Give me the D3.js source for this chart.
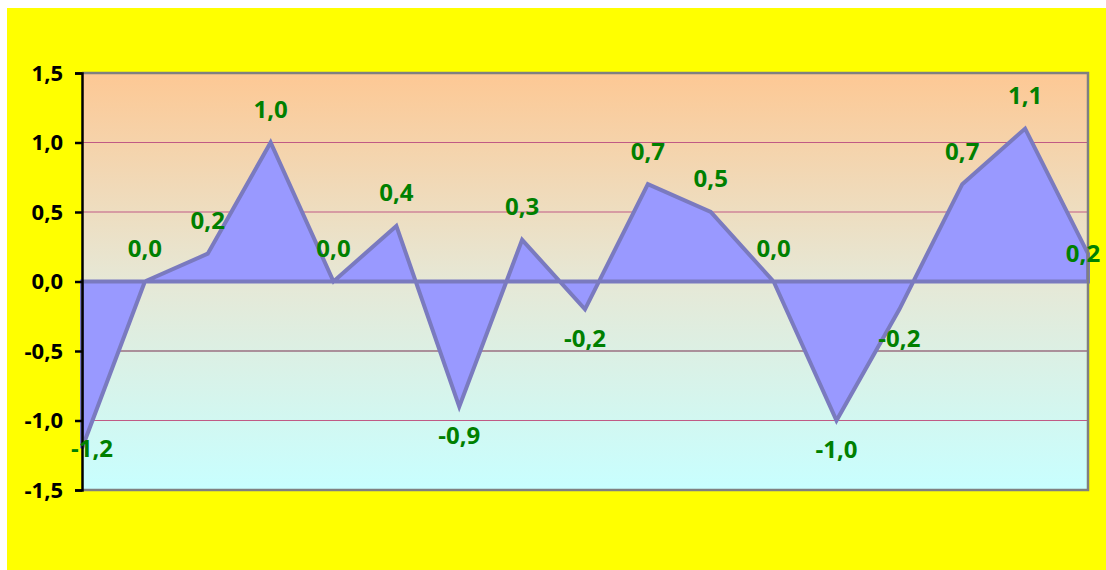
<!DOCTYPE html>
<html>
<head>
<meta charset="utf-8">
<script src="https://cdn.jsdelivr.net/npm/d3@7"></script>
<style>
  body { margin: 0; background: #fff; }
  svg { display: block; }
</style>
</head>
<body>
<svg width="1106" height="570"></svg>
<script>
// values
var values = [-1.2, 0.0, 0.2, 1.0, 0.0, 0.4, -0.9, 0.3, -0.2, 0.7, 0.5, 0.0, -1.0, -0.2, 0.7, 1.1, 0.2];
var yTicks = [-1.5, -1.0, -0.5, 0.0, 0.5, 1.0, 1.5];

var svg = d3.select("svg");
var fmt = d3.formatLocale({decimal: ",", thousands: ".", grouping: [3], currency: ["", ""], minus: "-"}).format(".1f");
var font = "'Open Sans', Lato, sans-serif";

// background
svg.append("rect").attr("x", 7).attr("y", 8).attr("width", 1099).attr("height", 562).attr("fill", "#ffff00");

var pL = 82, pR = 1088, pT = 73, pB = 490;

var scX = d3.scaleLinear().domain([0, values.length - 1]).range([pL, pR]);
var scY = d3.scaleLinear().domain([-1.5, 1.5]).range([pB, pT]);

var grad = svg.append("defs").append("linearGradient").attr("id", "bg")
  .attr("x1", 0).attr("y1", 0).attr("x2", 0).attr("y2", 1);
grad.append("stop").attr("offset", "0%").attr("stop-color", "#fdc894");
grad.append("stop").attr("offset", "50%").attr("stop-color", "#e6e8d6");
grad.append("stop").attr("offset", "100%").attr("stop-color", "#c8ffff");

svg.append("rect").attr("x", pL).attr("y", pT).attr("width", pR - pL).attr("height", pB - pT)
  .attr("fill", "url(#bg)");

// grid lines
svg.append("g").selectAll("line")
  .data(yTicks.filter(d => d > -1.5 && d < 1.5)).enter().append("line")
  .attr("x1", pL).attr("x2", pR)
  .attr("y1", d => scY(d)).attr("y2", d => scY(d))
  .attr("stroke", d => d == -0.5 ? "#7a3050" : "#c05a85").attr("stroke-width", 1.2);

// area
var area = d3.area().x((d, i) => scX(i)).y0(scY(0)).y1(d => scY(d));
svg.append("path").attr("d", area(values))
  .attr("fill", "#9999ff").attr("stroke", "#7a7abf").attr("stroke-width", 4)
  .attr("stroke-linejoin", "miter");

// plot border (top, right, bottom)
svg.append("path")
  .attr("d", "M" + pL + "," + pT + "H" + pR + "V" + pB + "H" + pL)
  .attr("fill", "none").attr("stroke", "#808080").attr("stroke-width", 2.5);

// y axis
var ax = svg.append("g").attr("transform", "translate(" + pL + ",0)")
  .call(d3.axisLeft(scY).tickValues(yTicks).tickFormat(fmt).tickSize(7).tickPadding(12));
ax.select(".domain").attr("stroke", "#000").attr("stroke-width", 2.5);
ax.selectAll(".tick line").attr("stroke", "#000").attr("stroke-width", 2.5);
ax.selectAll("text").attr("font-family", font)
  .attr("font-weight", "bold").attr("font-size", 22).attr("fill", "#000");

// data labels
svg.append("g").selectAll("text")
  .data(values).enter().append("text")
  .attr("x", (d, i) => scX(i) + (i == 0 ? 10 : i == values.length - 1 ? -5 : 0))
  .attr("y", (d, i) => scY(d) + (i == 0 || i == values.length - 1 ? 0 : d < 0 ? 29 : -33))
  .attr("dy", "0.35em")
  .attr("text-anchor", "middle")
  .attr("font-family", font).attr("font-weight", "bold")
  .attr("font-size", 24).attr("fill", "#008000")
  .text(d => fmt(d));
</script>
</body>
</html>
